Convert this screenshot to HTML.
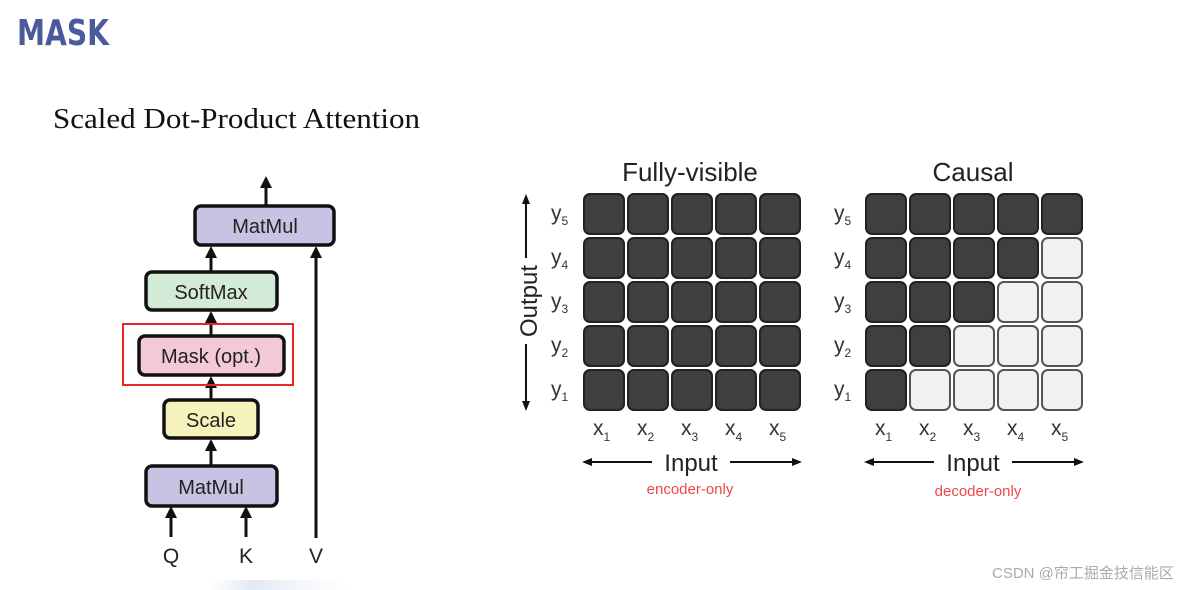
<!DOCTYPE html>
<html><head><meta charset="utf-8"><style>
html,body{margin:0;padding:0;background:#fff;}
svg{display:block}
text{font-family:"Liberation Sans","Noto Sans CJK SC",sans-serif;}
</style></head><body>
<svg width="1198" height="590" viewBox="0 0 1198 590" xmlns="http://www.w3.org/2000/svg">
<defs>
<marker id="ah" markerWidth="12" markerHeight="12" refX="6" refY="6" orient="auto" markerUnits="userSpaceOnUse"><path d="M0,0 L12,6 L0,12 z" fill="#111"/></marker>
<marker id="as" markerWidth="10" markerHeight="10" refX="5" refY="5" orient="auto" markerUnits="userSpaceOnUse"><path d="M0,1 L10,5 L0,9 z" fill="#111"/></marker>
<linearGradient id="blu" x1="0" x2="1"><stop offset="0" stop-color="#e4ecf6" stop-opacity="0"/><stop offset="0.3" stop-color="#dfe8f4"/><stop offset="1" stop-color="#eef3f9" stop-opacity="0"/></linearGradient>
</defs>
<rect width="1198" height="590" fill="#fff"/>
<text x="17" y="45" font-weight="bold" font-size="36" fill="#4a5a9c" textLength="92" lengthAdjust="spacingAndGlyphs" style="font-family:'DejaVu Sans',sans-serif">MASK</text>
<text x="53" y="128" font-size="28" fill="#111" textLength="367" lengthAdjust="spacingAndGlyphs" style="font-family:'Liberation Serif',serif">Scaled Dot-Product Attention</text>

<!-- left attention diagram -->
<g stroke="#111" stroke-width="3">
<line x1="266" y1="206" x2="266" y2="182" marker-end="url(#ah)"/>
<line x1="211" y1="272" x2="211" y2="252" marker-end="url(#ah)"/>
<line x1="316" y1="538" x2="316" y2="252" marker-end="url(#ah)"/>
<line x1="211" y1="335" x2="211" y2="317" marker-end="url(#ah)"/>
<line x1="211" y1="400" x2="211" y2="382" marker-end="url(#ah)"/>
<line x1="211" y1="465" x2="211" y2="445" marker-end="url(#ah)"/>
<line x1="171" y1="537" x2="171" y2="512" marker-end="url(#ah)"/>
<line x1="246" y1="537" x2="246" y2="512" marker-end="url(#ah)"/>
</g>
<rect x="195" y="206" width="139" height="39" rx="6" fill="#c9c3e3" stroke="#111" stroke-width="3.5"/>
<text x="265" y="233" font-size="20" text-anchor="middle" fill="#222">MatMul</text>
<rect x="146" y="272" width="131" height="38" rx="6" fill="#d3ead6" stroke="#111" stroke-width="3.5"/>
<text x="211" y="299" font-size="20" text-anchor="middle" fill="#222">SoftMax</text>
<rect x="123" y="324" width="170" height="61" fill="none" stroke="#e8242a" stroke-width="2"/>
<rect x="139" y="336" width="145" height="39" rx="6" fill="#f3c9d9" stroke="#111" stroke-width="3.5"/>
<text x="211" y="363" font-size="20" text-anchor="middle" fill="#222">Mask (opt.)</text>
<rect x="164" y="400" width="94" height="38" rx="6" fill="#f6f3bd" stroke="#111" stroke-width="3.5"/>
<text x="211" y="427" font-size="20" text-anchor="middle" fill="#222">Scale</text>
<rect x="146" y="466" width="131" height="40" rx="6" fill="#c9c3e3" stroke="#111" stroke-width="3.5"/>
<text x="211" y="494" font-size="20" text-anchor="middle" fill="#222">MatMul</text>
<text x="171" y="563" font-size="21" text-anchor="middle" fill="#222">Q</text>
<text x="246" y="563" font-size="21" text-anchor="middle" fill="#222">K</text>
<text x="316" y="563" font-size="21" text-anchor="middle" fill="#222">V</text>
<rect x="210" y="580" width="140" height="10" fill="url(#blu)"/>

<!-- titles -->
<text x="690" y="181" font-size="26" text-anchor="middle" fill="#222">Fully-visible</text>
<text x="973" y="181" font-size="26" text-anchor="middle" fill="#222">Causal</text>

<!-- output arrow -->
<line x1="526" y1="258" x2="526" y2="199" stroke="#111" stroke-width="2" marker-end="url(#as)"/>
<line x1="526" y1="344" x2="526" y2="406" stroke="#111" stroke-width="2" marker-end="url(#as)"/>
<text transform="translate(537,301) rotate(-90)" font-size="24" text-anchor="middle" fill="#222">Output</text>

<!-- left grid -->
<g stroke="#222" stroke-width="2" fill="#3f3f3f">
<rect x="584" y="194" width="40" height="40" rx="6"/><rect x="628" y="194" width="40" height="40" rx="6"/><rect x="672" y="194" width="40" height="40" rx="6"/><rect x="716" y="194" width="40" height="40" rx="6"/><rect x="760" y="194" width="40" height="40" rx="6"/>
<rect x="584" y="238" width="40" height="40" rx="6"/><rect x="628" y="238" width="40" height="40" rx="6"/><rect x="672" y="238" width="40" height="40" rx="6"/><rect x="716" y="238" width="40" height="40" rx="6"/><rect x="760" y="238" width="40" height="40" rx="6"/>
<rect x="584" y="282" width="40" height="40" rx="6"/><rect x="628" y="282" width="40" height="40" rx="6"/><rect x="672" y="282" width="40" height="40" rx="6"/><rect x="716" y="282" width="40" height="40" rx="6"/><rect x="760" y="282" width="40" height="40" rx="6"/>
<rect x="584" y="326" width="40" height="40" rx="6"/><rect x="628" y="326" width="40" height="40" rx="6"/><rect x="672" y="326" width="40" height="40" rx="6"/><rect x="716" y="326" width="40" height="40" rx="6"/><rect x="760" y="326" width="40" height="40" rx="6"/>
<rect x="584" y="370" width="40" height="40" rx="6"/><rect x="628" y="370" width="40" height="40" rx="6"/><rect x="672" y="370" width="40" height="40" rx="6"/><rect x="716" y="370" width="40" height="40" rx="6"/><rect x="760" y="370" width="40" height="40" rx="6"/>
</g>
<!-- right grid dark -->
<g stroke="#222" stroke-width="2" fill="#3f3f3f">
<rect x="866" y="194" width="40" height="40" rx="6"/><rect x="910" y="194" width="40" height="40" rx="6"/><rect x="954" y="194" width="40" height="40" rx="6"/><rect x="998" y="194" width="40" height="40" rx="6"/><rect x="1042" y="194" width="40" height="40" rx="6"/>
<rect x="866" y="238" width="40" height="40" rx="6"/><rect x="910" y="238" width="40" height="40" rx="6"/><rect x="954" y="238" width="40" height="40" rx="6"/><rect x="998" y="238" width="40" height="40" rx="6"/>
<rect x="866" y="282" width="40" height="40" rx="6"/><rect x="910" y="282" width="40" height="40" rx="6"/><rect x="954" y="282" width="40" height="40" rx="6"/>
<rect x="866" y="326" width="40" height="40" rx="6"/><rect x="910" y="326" width="40" height="40" rx="6"/>
<rect x="866" y="370" width="40" height="40" rx="6"/>
</g>
<g stroke="#555" stroke-width="2" fill="#f1f1f1">
<rect x="1042" y="238" width="40" height="40" rx="6"/>
<rect x="998" y="282" width="40" height="40" rx="6"/><rect x="1042" y="282" width="40" height="40" rx="6"/>
<rect x="954" y="326" width="40" height="40" rx="6"/><rect x="998" y="326" width="40" height="40" rx="6"/><rect x="1042" y="326" width="40" height="40" rx="6"/>
<rect x="910" y="370" width="40" height="40" rx="6"/><rect x="954" y="370" width="40" height="40" rx="6"/><rect x="998" y="370" width="40" height="40" rx="6"/><rect x="1042" y="370" width="40" height="40" rx="6"/>
</g>

<!-- labels -->
<g font-size="21" fill="#333">
<text x="551" y="220">y<tspan font-size="12" dy="5">5</tspan></text>
<text x="551" y="264">y<tspan font-size="12" dy="5">4</tspan></text>
<text x="551" y="308">y<tspan font-size="12" dy="5">3</tspan></text>
<text x="551" y="352">y<tspan font-size="12" dy="5">2</tspan></text>
<text x="551" y="396">y<tspan font-size="12" dy="5">1</tspan></text>
<text x="834" y="220">y<tspan font-size="12" dy="5">5</tspan></text>
<text x="834" y="264">y<tspan font-size="12" dy="5">4</tspan></text>
<text x="834" y="308">y<tspan font-size="12" dy="5">3</tspan></text>
<text x="834" y="352">y<tspan font-size="12" dy="5">2</tspan></text>
<text x="834" y="396">y<tspan font-size="12" dy="5">1</tspan></text>
<text x="593" y="435">x<tspan font-size="12" dy="6">1</tspan></text>
<text x="637" y="435">x<tspan font-size="12" dy="6">2</tspan></text>
<text x="681" y="435">x<tspan font-size="12" dy="6">3</tspan></text>
<text x="725" y="435">x<tspan font-size="12" dy="6">4</tspan></text>
<text x="769" y="435">x<tspan font-size="12" dy="6">5</tspan></text>
<text x="875" y="435">x<tspan font-size="12" dy="6">1</tspan></text>
<text x="919" y="435">x<tspan font-size="12" dy="6">2</tspan></text>
<text x="963" y="435">x<tspan font-size="12" dy="6">3</tspan></text>
<text x="1007" y="435">x<tspan font-size="12" dy="6">4</tspan></text>
<text x="1051" y="435">x<tspan font-size="12" dy="6">5</tspan></text>
</g>

<!-- input arrows -->
<g stroke="#111" stroke-width="2">
<line x1="652" y1="462" x2="587" y2="462" marker-end="url(#as)"/>
<line x1="730" y1="462" x2="797" y2="462" marker-end="url(#as)"/>
<line x1="934" y1="462" x2="869" y2="462" marker-end="url(#as)"/>
<line x1="1012" y1="462" x2="1079" y2="462" marker-end="url(#as)"/>
</g>
<text x="691" y="471" font-size="24" text-anchor="middle" fill="#222">Input</text>
<text x="973" y="471" font-size="24" text-anchor="middle" fill="#222">Input</text>
<text x="690" y="494" font-size="15" text-anchor="middle" fill="#f0464a">encoder-only</text>
<text x="978" y="496" font-size="15" text-anchor="middle" fill="#f0464a">decoder-only</text>

<text x="992" y="578" font-size="15" fill="#aaa">CSDN @帘工掘金技信能区</text>
</svg>
</body></html>
